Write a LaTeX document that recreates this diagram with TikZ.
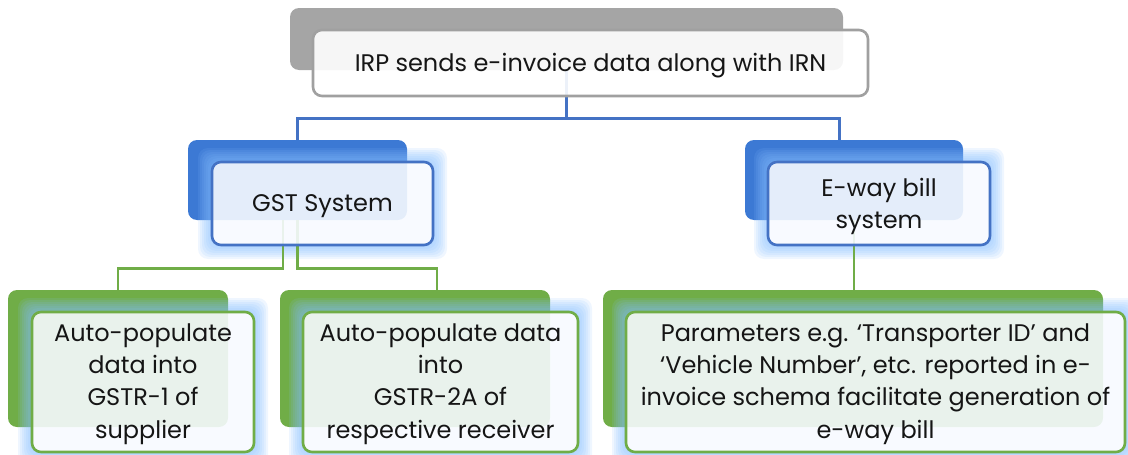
\documentclass[tikz,border=0pt]{standalone}
\usepackage{fontspec}
\setmainfont{Poppins}
\usetikzlibrary{calc}
\definecolor{greyback}{HTML}{A5A5A5}
\definecolor{greyline}{HTML}{A0A0A0}
\definecolor{blueback}{HTML}{3C79D4}
\definecolor{blueline}{HTML}{4472C4}
\definecolor{greenback}{HTML}{70AD47}
\definecolor{greenline}{HTML}{70AD47}
\definecolor{glowc}{HTML}{84BDFF}
\definecolor{frontfill}{HTML}{F7FAFF}
\definecolor{txt}{HTML}{151515}
\begin{document}
\begin{tikzpicture}[x=1pt,y=-1pt,
  backbox/.style={rectangle, rounded corners=9pt, inner sep=0pt},
  frontbox/.style={rectangle, rounded corners=9pt, inner sep=0pt, fill=frontfill, fill opacity=0.9, line width=2.6pt},
  boxtext/.style={inner sep=0pt, align=center, text=txt, font=\fontsize{24}{32.3}\selectfont},
  bluecon/.style={draw=blueline, line width=3pt},
  greencon/.style={draw=greenline, line width=2.8pt},
]
\useasboundingbox (0,0) rectangle (1128,455);
% back boxes
\node[backbox, fill=greyback, minimum width=553pt, minimum height=62pt] (topB) at (566.5,39) {};
\node[backbox, fill=blueback, minimum width=219pt, minimum height=80pt] (gstB) at (297.5,180) {};
\node[backbox, fill=blueback, minimum width=218pt, minimum height=80pt] (ewayB) at (854,180) {};
\node[backbox, fill=greenback, minimum width=220pt, minimum height=137pt] (b1B) at (118,358.5) {};
\node[backbox, fill=greenback, minimum width=270pt, minimum height=137pt] (b2B) at (415,358.5) {};
\node[backbox, fill=greenback, minimum width=500pt, minimum height=137pt] (b3B) at (853,358.5) {};
% front box centres
\path (322.5,203.5) coordinate (gstC) (879,203.5) coordinate (ewayC)
      (143,382) coordinate (b1C) (440.5,382) coordinate (b2C) (875.5,382) coordinate (b3C);
% glows (rings outside the front boxes)
\foreach \cx/\cy/\w/\h in {322.5/203.5/221/83, 879/203.5/222/83, 143/382/222/140, 440.5/382/275/140, 875.5/382/499/140}{
  \foreach \g in {2,4,...,14}{
    \fill[glowc, opacity=0.13, even odd rule, rounded corners=10pt]
      (\cx-\w/2-\g, \cy-\h/2-\g) rectangle (\cx+\w/2+\g, \cy+\h/2+\g)
      (\cx-\w/2, \cy-\h/2) rectangle (\cx+\w/2, \cy+\h/2);
  }
}
% connectors
\coordinate (busT) at ($(topB.south)+(0,48)$);
\draw[bluecon] (topB.south) -- (busT);
\draw[bluecon] (gstB.north) |- (busT);
\draw[bluecon] ([xshift=-15pt]ewayB.north) |- (busT);
\draw[greencon] ([xshift=-14.5pt]gstB.south) -- ++(0,48) -| (b1B.north);
\draw[greencon] (gstB.south) -- ++(0,48) -| ([xshift=22pt]b2B.north);
\draw[greencon] (ewayB.south) -- (ewayB.south |- b3B.north);
% front boxes
\node[frontbox, draw=greyline, fill=white, minimum width=555pt, minimum height=66pt] (top) at (590.5,63) {};
\node[frontbox, draw=blueline, minimum width=221pt, minimum height=83pt] (gst) at (gstC) {};
\node[frontbox, draw=blueline, minimum width=222pt, minimum height=83pt] (eway) at (ewayC) {};
\node[frontbox, draw=greenline, minimum width=222pt, minimum height=140pt] (b1) at (b1C) {};
\node[frontbox, draw=greenline, minimum width=275pt, minimum height=140pt] (b2) at (b2C) {};
\node[frontbox, draw=greenline, minimum width=499pt, minimum height=140pt] (b3) at (b3C) {};
% texts
\node[boxtext] (topT) at ([yshift=-3pt]top.center) {IRP sends e-invoice data along with IRN};
\node[boxtext] (gstT) at ([yshift=-3pt]gst.center) {GST System};
\node[boxtext] (ewayT) at ([yshift=-3pt]eway.center) {E-way bill\\system};
\node[boxtext] (b1T) at ([yshift=-2pt]b1.center) {Auto-populate\\data into\\GSTR-1 of\\supplier};
\node[boxtext] (b2T) at ([yshift=-2pt]b2.center) {Auto-populate data\\into\\GSTR-2A of\\respective receiver};
\node[boxtext] (b3T) at ([yshift=-2pt]b3.center) {Parameters e.g. ‘Transporter ID’ and\\‘Vehicle Number’, etc. reported in e-\\invoice schema facilitate generation of\\e-way bill};
\end{tikzpicture}
\end{document}
